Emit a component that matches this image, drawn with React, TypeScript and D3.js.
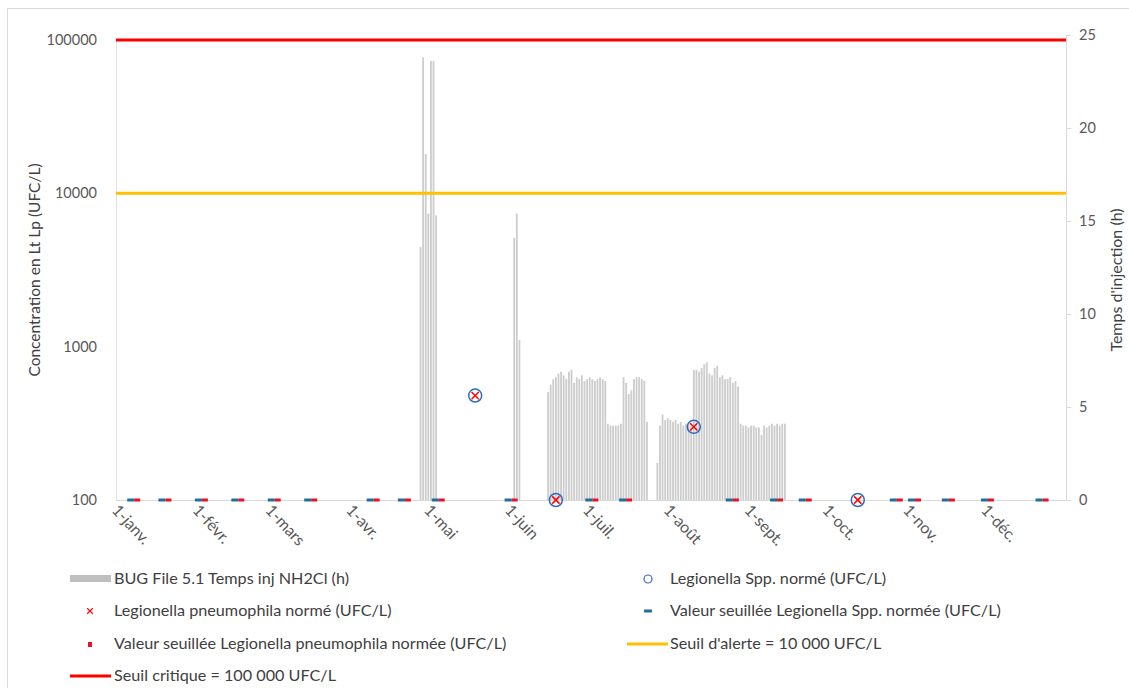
import React, { useEffect, useRef } from 'react'
import * as d3 from 'd3'

// daily injection time of NH2Cl (h), consecutive days from each start date
const injStart1 = '2021-04-28'
const injHours1 = [13.6, 23.8, 18.6, 15.4, 23.6, 23.6, 15.3]
const injStart2 = '2021-06-03'
const injHours2 = [14.1, 15.4, 8.6]
const injStart3 = '2021-06-16'
const injHours3 = [5.8, 6.2, 6.5, 6.6, 6.8, 6.9, 6.7, 6.5, 6.9, 7.0,
    6.3, 6.6, 6.5, 6.7, 6.4, 6.5, 6.6, 6.5, 6.4, 6.5,
    6.6, 6.5, 6.4, 4.1, 4.0, 4.0, 4.0, 4.0, 4.1, 6.6,
    6.3, 5.7, 5.9, 6.5, 6.6, 6.6, 6.5, 6.4, 4.2]
const injStart4 = '2021-07-28'
const injHours4 = [2.0, 4.0, 4.6, 4.3, 4.4, 4.3, 4.2, 4.3, 4.1, 4.2,
    4.0, 4.1, 4.1, 4.0, 7.0, 7.0, 6.9, 7.1, 7.3, 7.4,
    6.8, 6.7, 7.1, 7.2, 6.6, 6.7, 6.5, 6.5, 6.6, 6.3,
    6.4, 6.1, 4.1, 4.0, 4.0, 3.9, 4.0, 4.0, 3.9, 3.9,
    3.5, 4.0, 3.9, 4.0, 4.1, 4.0, 4.1, 4.0, 4.1, 4.1]

// Legionella samples (UFC/L)
const sampleDates = ['2021-05-19', '2021-06-19', '2021-08-11', '2021-10-13']
const sppValues = [480, 100, 300, 100]
const lpValues = [480, 100, 300, 100]

// samples below the quantification limit (thresholded at 100 UFC/L)
const belowDates = ['2021-01-08', '2021-01-20', '2021-02-03', '2021-02-17', '2021-03-03',
    '2021-03-17', '2021-04-10', '2021-04-22', '2021-05-05', '2021-06-02',
    '2021-07-03', '2021-07-16', '2021-08-26', '2021-09-12', '2021-09-23',
    '2021-10-28', '2021-11-04', '2021-11-17', '2021-12-02', '2021-12-23']
const belowValue = 100

const alertLevel = 10000
const criticalLevel = 100000

const monthLabels = ['1-janv.', '1-févr.', '1-mars', '1-avr.', '1-mai', '1-juin',
    '1-juil.', '1-août', '1-sept.', '1-oct.', '1-nov.', '1-déc.']
const leftTicks = [100, 1000, 10000, 100000]
const rightTicks = [0, 5, 10, 15, 20, 25]

export default function App() {
    const ref = useRef<SVGSVGElement>(null)

    useEffect(() => {
        const svg = d3.select(ref.current)
        svg.selectAll('*').remove()

        const font = 'Lato, "Open Sans", sans-serif'
        const axisColor = '#595959'
        const textColor = '#404040'
        const red = '#ff0000'
        const blue = '#2f6cc0'
        const gold = '#ffc000'

        const parse = d3.utcParse('%Y-%m-%d')
        const yearStart = parse('2021-01-01')!
        const yearEnd = parse('2022-01-01')!

        // scales
        const x = d3.scaleUtc().domain([yearStart, yearEnd]).range([116, 1066])
        const y = d3.scaleLog().domain([100, 100000]).range([500, 40])
        const y2 = d3.scaleLinear().domain([0, 25]).range([500, 35])

        // chart area border
        svg.append('rect')
            .attr('x', 7.5).attr('y', 8.5)
            .attr('width', 1140).attr('height', 700)
            .attr('fill', 'none').attr('stroke', '#d9d9d9')

        // injection bars (right axis)
        const bars: { date: Date, h: number }[] = []
        const groups: [string, number[]][] = [
            [injStart1, injHours1], [injStart2, injHours2],
            [injStart3, injHours3], [injStart4, injHours4]]
        groups.forEach(([start, hours]) => {
            hours.forEach((h, i) => {
                bars.push({ date: d3.utcDay.offset(parse(start)!, i), h })
            })
        })
        const dayW = x(d3.utcDay.offset(yearStart, 1)) - x(yearStart)
        const barW = dayW * 0.7

        svg.append('g')
            .selectAll('rect')
            .data(bars)
            .enter()
            .append('rect')
            .attr('x', d => x(d.date) - barW / 2)
            .attr('y', d => y2(d.h))
            .attr('width', barW)
            .attr('height', d => y2(0) - y2(d.h))
            .attr('fill', '#cdcdcd')

        // axis lines
        svg.append('line')
            .attr('x1', 116).attr('x2', 1066).attr('y1', 500.5).attr('y2', 500.5)
            .attr('stroke', '#d9d9d9')
        svg.append('line')
            .attr('x1', 116.5).attr('x2', 116.5).attr('y1', 40).attr('y2', 500)
            .attr('stroke', '#e3e3e3')
        svg.append('line')
            .attr('x1', 1066.5).attr('x2', 1066.5).attr('y1', 35).attr('y2', 500)
            .attr('stroke', '#d9d9d9')

        // left axis labels
        svg.append('g')
            .selectAll('text')
            .data(leftTicks)
            .enter()
            .append('text')
            .attr('x', 97)
            .attr('y', d => y(d) + 5)
            .attr('text-anchor', 'end')
            .style('font', '14.5px ' + font)
            .attr('fill', axisColor)
            .text(d => d)

        // right axis ticks + labels
        svg.append('g')
            .selectAll('line')
            .data(rightTicks)
            .enter()
            .append('line')
            .attr('x1', 1066).attr('x2', 1071)
            .attr('y1', d => y2(d) + 0.5).attr('y2', d => y2(d) + 0.5)
            .attr('stroke', '#d9d9d9')
        svg.append('g')
            .selectAll('text')
            .data(rightTicks)
            .enter()
            .append('text')
            .attr('x', 1079)
            .attr('y', d => y2(d) + 5)
            .style('font', '14.5px ' + font)
            .attr('fill', axisColor)
            .text(d => d)

        // month labels, rotated
        const months = d3.utcMonths(yearStart, yearEnd)
        svg.append('g')
            .selectAll('text')
            .data(months)
            .enter()
            .append('text')
            .attr('transform', d => 'translate(' + (x(d) - 5) + ',511) rotate(47)')
            .style('font', '16px ' + font)
            .attr('fill', axisColor)
            .text((d, i) => monthLabels[i])

        // axis titles
        svg.append('text')
            .attr('transform', 'translate(40,270) rotate(-90)')
            .attr('text-anchor', 'middle')
            .style('font', '15.5px ' + font)
            .attr('fill', textColor)
            .text('Concentration en Lt Lp (UFC/L)')
        svg.append('text')
            .attr('transform', 'translate(1122,280) rotate(-90)')
            .attr('text-anchor', 'middle')
            .style('font', '16px ' + font)
            .attr('fill', textColor)
            .text("Temps d'injection (h)")

        // threshold lines
        svg.append('line')
            .attr('x1', 116).attr('x2', 1066)
            .attr('y1', y(criticalLevel)).attr('y2', y(criticalLevel))
            .attr('stroke', red).attr('stroke-width', 3)
        svg.append('line')
            .attr('x1', 116).attr('x2', 1066)
            .attr('y1', y(alertLevel)).attr('y2', y(alertLevel))
            .attr('stroke', gold).attr('stroke-width', 3)

        // thresholded values: blue dash (Spp.) and red dash (Lp) side by side
        const below = belowDates.map(d => parse(d)!)
        svg.append('g')
            .selectAll('rect')
            .data(below)
            .enter()
            .append('rect')
            .attr('x', d => x(d) - 7)
            .attr('y', y(belowValue) - 1.5)
            .attr('width', 7).attr('height', 3)
            .attr('fill', '#1f6e9c')
        svg.append('g')
            .selectAll('rect')
            .data(below)
            .enter()
            .append('rect')
            .attr('x', d => x(d))
            .attr('y', y(belowValue) - 1.5)
            .attr('width', 6).attr('height', 3)
            .attr('fill', '#e8102a')

        // sampled values: blue circle (Spp.) and red cross (Lp)
        const samples = sampleDates.map((d, i) => ({ date: parse(d)!, spp: sppValues[i], lp: lpValues[i] }))
        svg.append('g')
            .selectAll('circle')
            .data(samples)
            .enter()
            .append('circle')
            .attr('cx', d => x(d.date))
            .attr('cy', d => y(d.spp))
            .attr('r', 6.5)
            .attr('fill', 'none')
            .attr('stroke', blue)
            .attr('stroke-width', 1.5)
        const cross = d3.symbol().type(d3.symbolX).size(36)
        svg.append('g')
            .selectAll('path')
            .data(samples)
            .enter()
            .append('path')
            .attr('transform', d => 'translate(' + x(d.date) + ',' + y(d.lp) + ')')
            .attr('d', cross())
            .attr('fill', 'none')
            .attr('stroke', red)
            .attr('stroke-width', 1.5)

        // legend
        const legend = svg.append('g').style('font', '16.2px ' + font).attr('fill', textColor)
        const rowY = [579, 611, 644, 676]
        const colText = [114, 670]

        // row 1
        legend.append('rect').attr('x', 70).attr('y', rowY[0] - 4).attr('width', 41).attr('height', 7).attr('fill', '#bfbfbf')
        legend.append('text').attr('x', colText[0]).attr('y', rowY[0] + 5).text('BUG File 5.1 Temps inj NH2Cl (h)')
        legend.append('circle').attr('cx', 648).attr('cy', rowY[0]).attr('r', 4).attr('fill', 'none').attr('stroke', blue).attr('stroke-width', 1.2)
        legend.append('text').attr('x', colText[1]).attr('y', rowY[0] + 5).text('Legionella Spp. normé (UFC/L)')

        // row 2
        legend.append('path').attr('transform', 'translate(90,' + rowY[1] + ')')
            .attr('d', d3.symbol().type(d3.symbolX).size(22)()).attr('stroke', red).attr('stroke-width', 1.2).attr('fill', 'none')
        legend.append('text').attr('x', colText[0]).attr('y', rowY[1] + 5).text('Legionella pneumophila normé (UFC/L)')
        legend.append('rect').attr('x', 644).attr('y', rowY[1] - 1.5).attr('width', 8).attr('height', 3).attr('fill', '#1f6e9c')
        legend.append('text').attr('x', colText[1]).attr('y', rowY[1] + 5).text('Valeur seuillée Legionella Spp. normée (UFC/L)')

        // row 3
        legend.append('rect').attr('x', 88).attr('y', rowY[2] - 2).attr('width', 4).attr('height', 5).attr('fill', '#e8102a')
        legend.append('text').attr('x', colText[0]).attr('y', rowY[2] + 5).text('Valeur seuillée Legionella pneumophila normée (UFC/L)')
        legend.append('line').attr('x1', 627).attr('x2', 668).attr('y1', rowY[2]).attr('y2', rowY[2]).attr('stroke', gold).attr('stroke-width', 3)
        legend.append('text').attr('x', colText[1]).attr('y', rowY[2] + 5).text("Seuil d'alerte = 10 000 UFC/L")

        // row 4
        legend.append('line').attr('x1', 70).attr('x2', 111).attr('y1', rowY[3]).attr('y2', rowY[3]).attr('stroke', red).attr('stroke-width', 3)
        legend.append('text').attr('x', colText[0]).attr('y', rowY[3] + 5).text('Seuil critique = 100 000 UFC/L')
    }, [])

    return (
        <svg ref={ref} width={1129} height={688}
            style={{ position: 'absolute', left: 0, top: 0, background: '#fff' }} />
    )
}
